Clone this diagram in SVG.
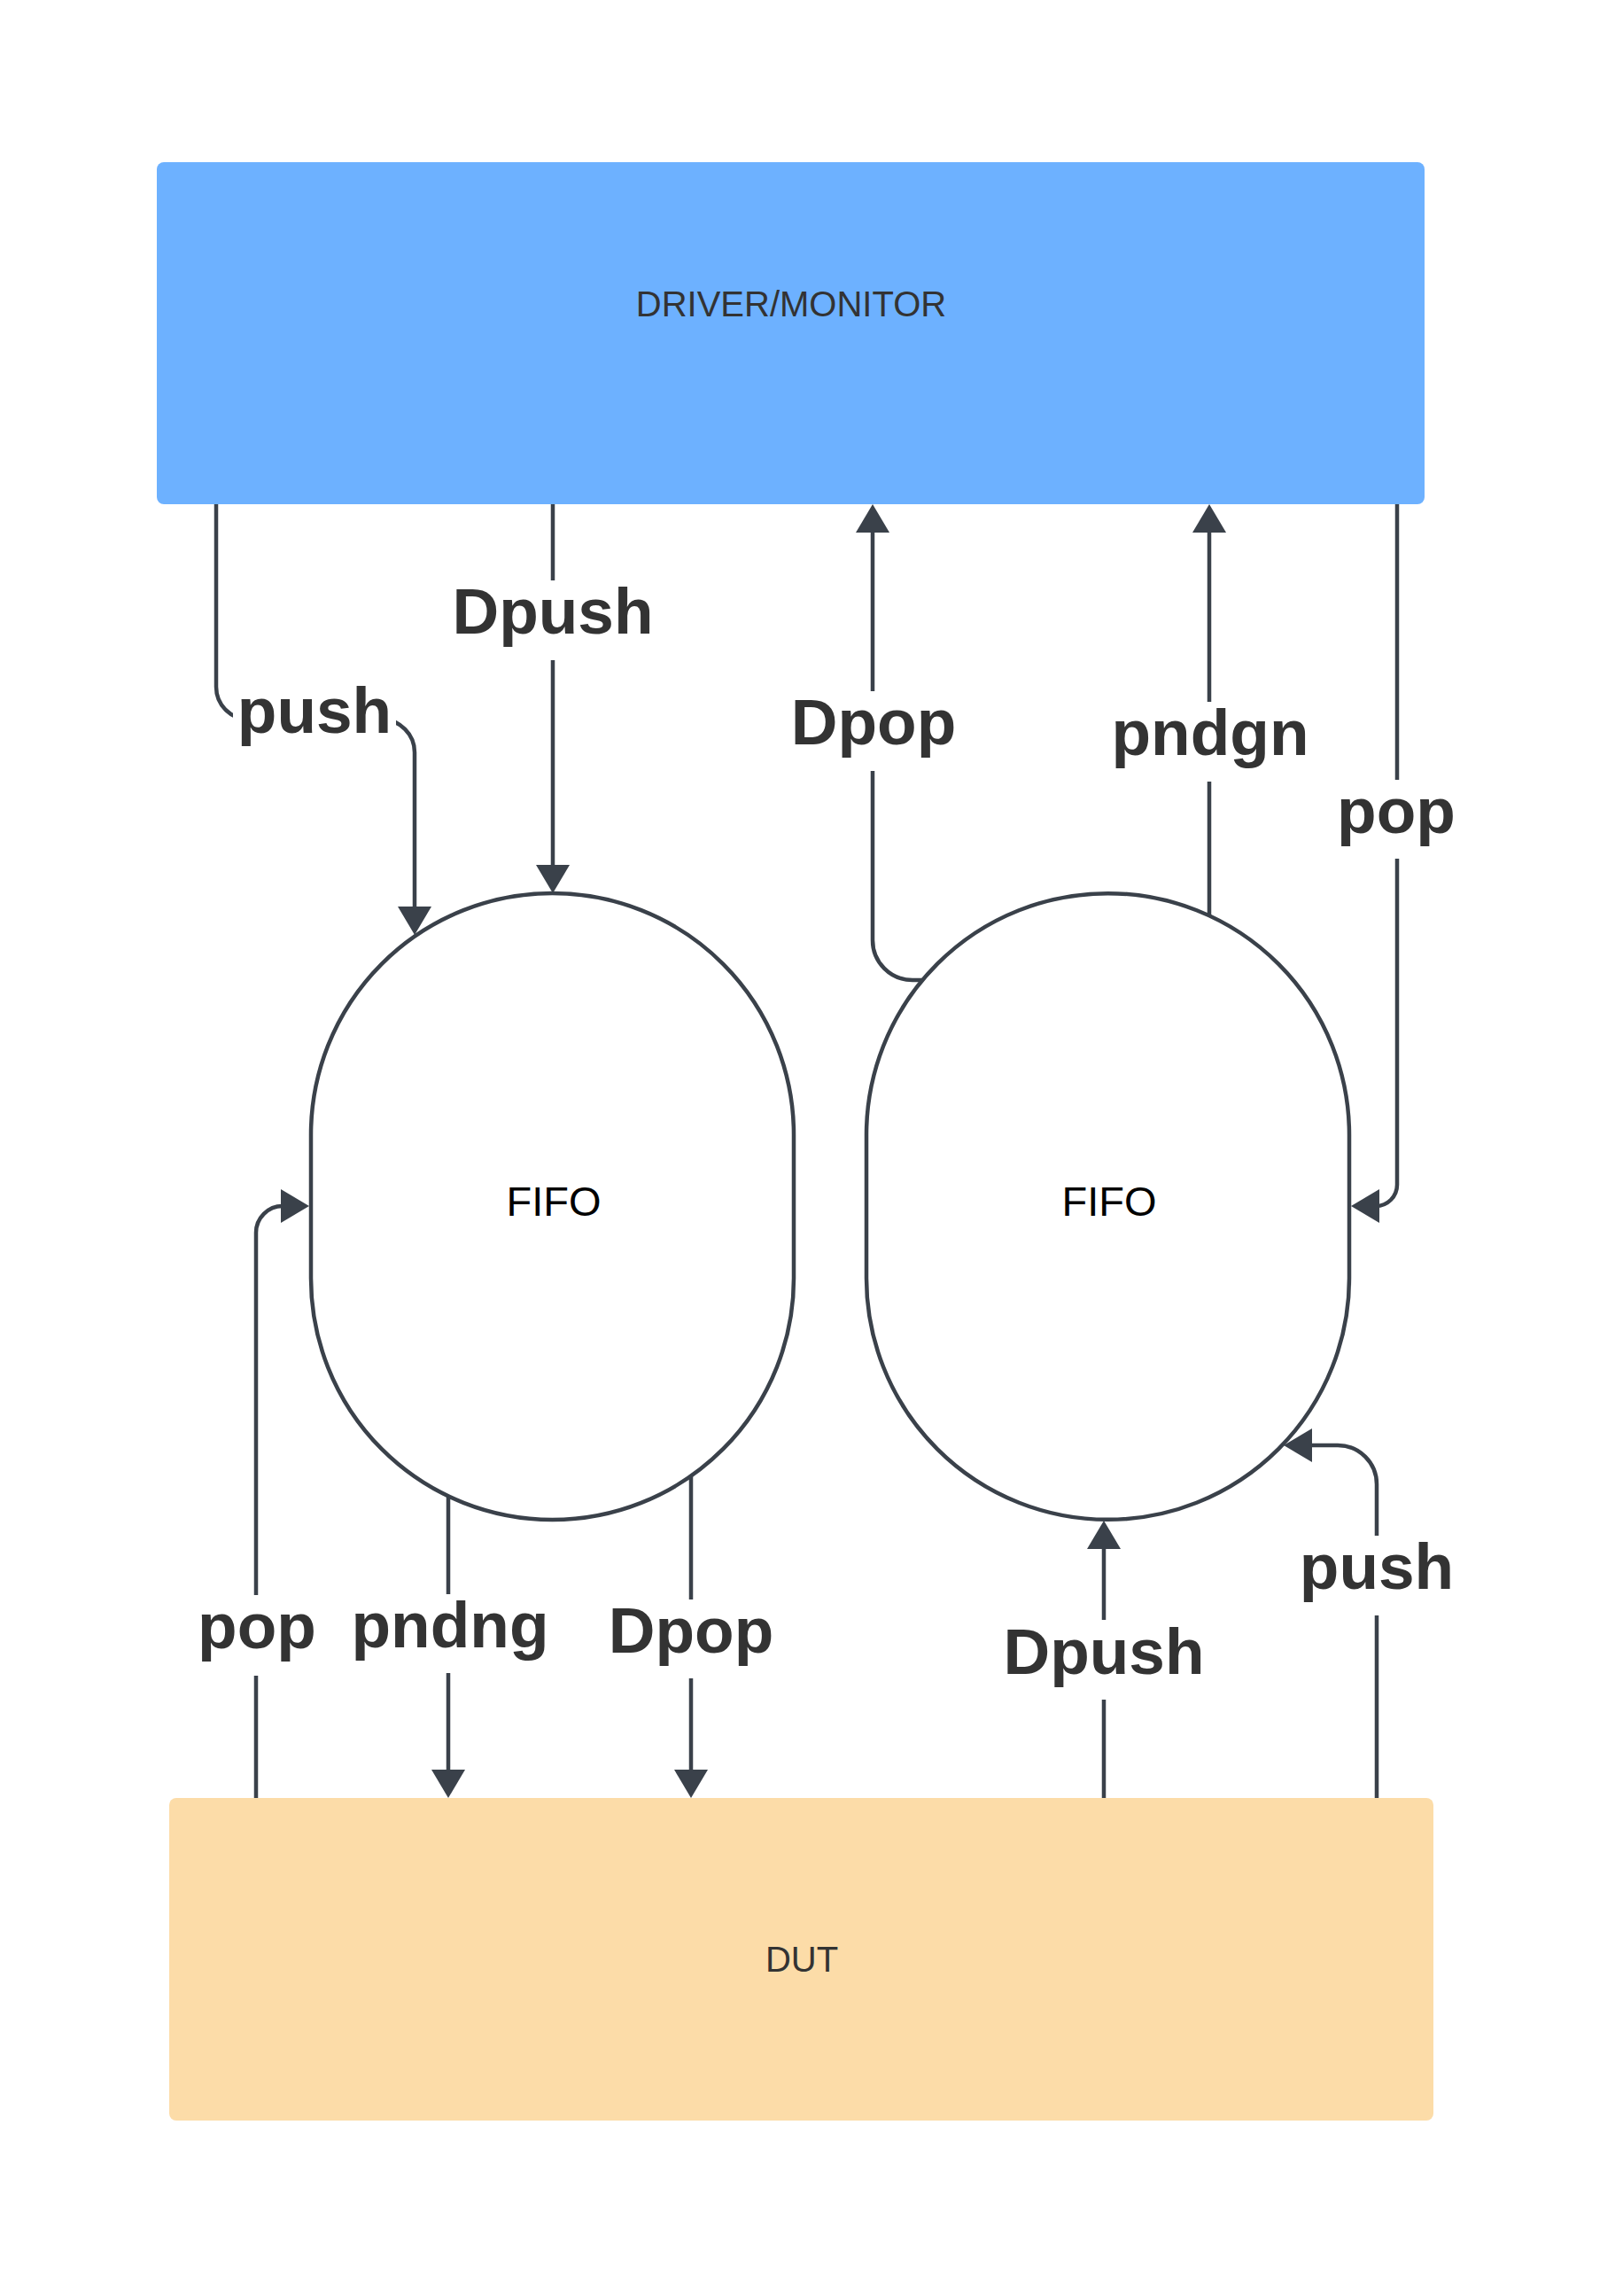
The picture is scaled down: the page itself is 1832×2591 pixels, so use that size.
<svg xmlns="http://www.w3.org/2000/svg" width="1832" height="2591" viewBox="0 0 1832 2591">
  <style>
    .box-text { font-family: "Liberation Sans", Arial, sans-serif; font-size: 40px; fill: #333333; text-anchor: middle; }
    .fifo-text { font-family: "Liberation Sans", Arial, sans-serif; font-size: 47px; fill: #000000; text-anchor: middle; }
    .fifo { fill: #ffffff; stroke: #3a414a; stroke-width: 4.5; }
    .conn { fill: none; stroke: #3a414a; stroke-width: 4.5; }
    .lbl { font-family: "Liberation Sans", Arial, sans-serif; font-size: 73px; font-weight: bold; fill: #333333; text-anchor: middle; }
    .lbl-bg { fill: #ffffff; }
  </style>
  <defs>
    <marker id="arr" markerUnits="userSpaceOnUse" markerWidth="32" markerHeight="38" viewBox="0 0 32 38" refX="20" refY="19" orient="auto">
      <path d="M0,0 L32,19 L0,38 Z" fill="#3a414a"/>
    </marker>
  </defs>
  <rect width="1832" height="2591" fill="#ffffff"/>

  <g id="driver-monitor">
    <rect x="177" y="183" width="1431" height="386" rx="8" fill="#6db1ff"/>
    <text class="box-text" x="893" y="357">DRIVER/MONITOR</text>
  </g>

  <g id="dut">
    <rect x="191" y="2029" width="1427" height="364" rx="8" fill="#fcdca8"/>
    <text class="box-text" x="905" y="2225">DUT</text>
  </g>

  <g id="fifo-left">
    <path class="fifo" d="M351,1280.5 A272.5,272.5 0 0 1 896,1280.5 V1442.5 A272.5,272.5 0 0 1 351,1442.5 Z"/>
    <text class="fifo-text" x="625" y="1372">FIFO</text>
  </g>

  <g id="fifo-right">
    <path class="fifo" d="M978,1280.5 A272.5,272.5 0 0 1 1523,1280.5 V1442.5 A272.5,272.5 0 0 1 978,1442.5 Z"/>
    <text class="fifo-text" x="1252" y="1372">FIFO</text>
  </g>

  <g id="connectors">
    <path class="conn" marker-end="url(#arr)" d="M244,569 V775 A37,37 0 0 0 281,812 H431 A37,37 0 0 1 468,849 V1043"/>
    <path class="conn" marker-end="url(#arr)" d="M624,569 V996"/>
    <path class="conn" marker-end="url(#arr)" d="M1041,1106 H1030 A45,45 0 0 1 985,1061 V581"/>
    <path class="conn" marker-end="url(#arr)" d="M1365,1033 V581"/>
    <path class="conn" marker-end="url(#arr)" d="M1577,569 V1337 A24,24 0 0 1 1553,1361 H1537"/>
    <path class="conn" marker-end="url(#arr)" d="M289,2029 V1391 A30,30 0 0 1 319,1361 H337"/>
    <path class="conn" marker-end="url(#arr)" d="M506,1688 V2017"/>
    <path class="conn" marker-end="url(#arr)" d="M780,1666 V2017"/>
    <path class="conn" marker-end="url(#arr)" d="M1246,2029 V1728"/>
    <path class="conn" marker-end="url(#arr)" d="M1554,2029 V1675 A44,44 0 0 0 1510,1631 H1461"/>
  </g>

  <g id="labels">
    <rect class="lbl-bg" x="263" y="772" width="184" height="76"/>
    <text class="lbl" x="355" y="827">push</text>
    <rect class="lbl-bg" x="510" y="655" width="228" height="90"/>
    <text class="lbl" x="624" y="715">Dpush</text>
    <rect class="lbl-bg" x="892" y="780" width="188" height="90"/>
    <text class="lbl" x="986" y="840">Dpop</text>
    <rect class="lbl-bg" x="1255" y="792" width="222" height="90"/>
    <text class="lbl" x="1366" y="852">pndgn</text>
    <rect class="lbl-bg" x="1510" y="880" width="134" height="89"/>
    <text class="lbl" x="1576" y="940">pop</text>
    <rect class="lbl-bg" x="224" y="1800" width="134" height="91"/>
    <text class="lbl" x="290" y="1860">pop</text>
    <rect class="lbl-bg" x="398" y="1799" width="220" height="89"/>
    <text class="lbl" x="508" y="1859">pndng</text>
    <rect class="lbl-bg" x="688" y="1805" width="184" height="89"/>
    <text class="lbl" x="780" y="1865">Dpop</text>
    <rect class="lbl-bg" x="1134" y="1828" width="224" height="90"/>
    <text class="lbl" x="1246" y="1889">Dpush</text>
    <rect class="lbl-bg" x="1468" y="1733" width="172" height="90"/>
    <text class="lbl" x="1554" y="1793">push</text>
  </g>
</svg>
